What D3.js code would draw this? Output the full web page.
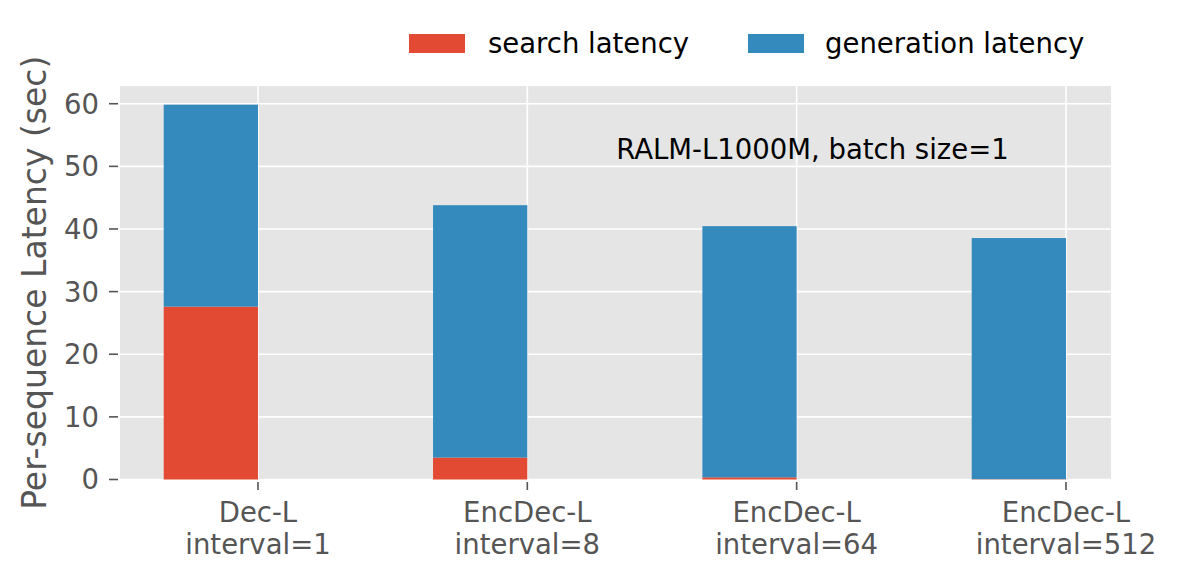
<!DOCTYPE html>
<html><head><meta charset="utf-8">
<script src="https://cdn.jsdelivr.net/npm/d3@7"></script>
<style>
body{margin:0;background:#fff;}
text{font-family:"DejaVu Sans",sans-serif;}
</style></head>
<body><svg id="c" width="1177" height="580"></svg>
<script>
const categories = ["Dec-L\ninterval=1","EncDec-L\ninterval=8","EncDec-L\ninterval=64","EncDec-L\ninterval=512"];
const searchLatency = [27.6, 3.5, 0.35, 0.05];
const generationLatency = [32.25, 40.3, 40.1, 38.5];
const yTicks = [0,10,20,30,40,50,60];
const seriesNames = ["search latency","generation latency"];
const colors = ["#E24A33","#348ABD"];
const annotation = {text:"RALM-L1000M, batch size=1", x:1.33, y:51.1};

const svg = d3.select("#c");
const pL=120, pR=1111, pT=86, pB=479.5;
const barW = 0.35;
const x = d3.scaleLinear().domain([-0.5175, 3.1675]).range([118.6, 1111.1]);
const y = d3.scaleLinear().domain([0, 62.83]).range([pB, pT]);

svg.append("rect").attr("x",pL).attr("y",pT).attr("width",pR-pL).attr("height",pB-pT).attr("fill","#E5E5E5");

// grid
svg.append("g").selectAll("line").data(yTicks).join("line")
  .attr("x1",pL).attr("x2",pR).attr("y1",d=>y(d)).attr("y2",d=>y(d))
  .attr("stroke","#fff").attr("stroke-width",1.6);
svg.append("g").selectAll("line").data(categories).join("line")
  .attr("x1",(d,i)=>x(i)).attr("x2",(d,i)=>x(i)).attr("y1",pT).attr("y2",pB)
  .attr("stroke","#fff").attr("stroke-width",1.6);

// bars
const g = svg.append("g");
g.selectAll("rect.s").data(searchLatency).join("rect").attr("class","s")
  .attr("x",(d,i)=>x(i-barW)).attr("width",(d,i)=>x(i)-x(i-barW))
  .attr("y",d=>y(d)).attr("height",d=>y(0)-y(d)).attr("fill",colors[0]);
g.selectAll("rect.g").data(generationLatency).join("rect").attr("class","g")
  .attr("x",(d,i)=>x(i-barW)).attr("width",(d,i)=>x(i)-x(i-barW))
  .attr("y",(d,i)=>y(d+searchLatency[i])).attr("height",(d,i)=>y(searchLatency[i])-y(d+searchLatency[i])).attr("fill",colors[1]);

// y axis
const ya = svg.append("g");
ya.selectAll("line").data(yTicks).join("line")
  .attr("x1",109).attr("x2",118).attr("y1",d=>y(d)).attr("y2",d=>y(d))
  .attr("stroke","#555").attr("stroke-width",1.6);
ya.selectAll("text").data(yTicks).join("text")
  .attr("x",99).attr("y",d=>y(d)).attr("dy","0.36em").attr("text-anchor","end")
  .attr("font-size",27.5).attr("fill","#555").text(d=>d);

// x axis
const xa = svg.append("g");
xa.selectAll("line").data(categories).join("line")
  .attr("x1",(d,i)=>x(i)).attr("x2",(d,i)=>x(i)).attr("y1",482).attr("y2",490)
  .attr("stroke","#555").attr("stroke-width",1.6);
const xt = xa.selectAll("text").data(categories).join("text")
  .attr("text-anchor","middle").attr("font-size",27.5).attr("fill","#555");
xt.each(function(d,i){
  const lines=d.split("\n");
  d3.select(this).selectAll("tspan").data(lines).join("tspan")
    .attr("x",x(i)).attr("y",(l,j)=>521.5+j*32.5).text(l=>l);
});

// y label
svg.append("text").attr("transform",`translate(46,${(pT+pB)/2}) rotate(-90)`)
  .attr("text-anchor","middle").attr("font-size",33).attr("fill","#555")
  .text("Per-sequence Latency (sec)");

// annotation
svg.append("text").attr("x",x(annotation.x)).attr("y",y(annotation.y))
  .attr("font-size",27.5).attr("fill","#000").text(annotation.text);

// legend
const legX=[409,748];
const legTX=[488,825];
const lg = svg.append("g");
seriesNames.forEach((n,i)=>{
  lg.append("rect").attr("x",legX[i]).attr("y",34).attr("width",56).attr("height",19).attr("fill",colors[i]);
  lg.append("text").attr("x",legTX[i]).attr("y",53).attr("font-size",27.5).attr("fill","#000").text(n);
});
</script></body></html>
